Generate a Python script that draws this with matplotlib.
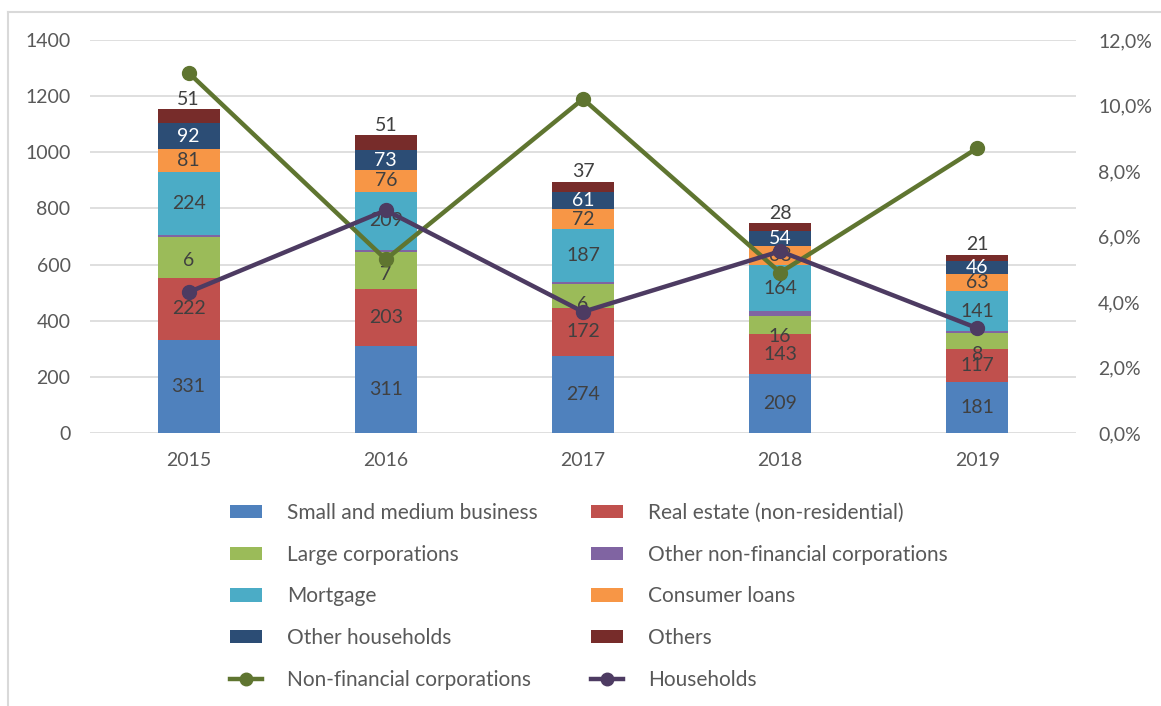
import matplotlib
matplotlib.use("Agg")
import matplotlib.pyplot as plt
import numpy as np
from matplotlib.lines import Line2D
from matplotlib.patches import Patch

plt.rcParams['font.family'] = ['Lato', 'DejaVu Sans']

years = ["2015", "2016", "2017", "2018", "2019"]

smb = [331, 311, 274, 209, 181]
real_estate = [222, 203, 172, 143, 117]
large_corp = [147, 130, 86, 65, 58]
other_nfc = [6, 7, 6, 16, 8]
mortgage = [224, 209, 187, 164, 141]
consumer = [81, 76, 72, 68, 63]
other_hh = [92, 73, 61, 54, 46]
others = [51, 51, 37, 28, 21]

nfc_rate = [11.0, 5.3, 10.2, 4.9, 8.7]
hh_rate = [4.3, 6.8, 3.7, 5.55, 3.2]

series = [
    ("Small and medium business", smb, "#4F81BD", "#404040", True),
    ("Real estate (non-residential)", real_estate, "#C0504D", "#404040", True),
    ("Large corporations", large_corp, "#9BBB59", "#404040", False),
    ("Other non-financial corporations", other_nfc, "#8064A2", "#404040", False),
    ("Mortgage", mortgage, "#4BACC6", "#404040", True),
    ("Consumer loans", consumer, "#F79646", "#404040", True),
    ("Other households", other_hh, "#2C4D75", "#FFFFFF", True),
    ("Others", others, "#772C2A", "#404040", False),
]

# layout offsets (in data units) for the "Other non-financial corporations" labels
onfc_label_shift = [63, 49, 13, -9, -20]

W, H = 1161, 706
fig = plt.figure(figsize=(W / 100, H / 100), dpi=100)
ax = fig.add_axes([90 / W, 1 - 433 / H, (1076 - 90) / W, (433 - 40) / H])
ax2 = ax.twinx()

x = np.arange(len(years))
bw = 0.315
bottom = np.zeros(len(years))
handles = {}
label_fs = 14
for name, vals, col, tcol, show in series:
    vals = np.array(vals, dtype=float)
    ax.bar(x, vals, bw, bottom=bottom, color=col, zorder=2, label=name)
    handles[name] = Patch(facecolor=col, label=name)
    if show:
        for xi, b, v in zip(x, bottom, vals):
            ax.text(xi, b + v / 2, f"{int(v)}", ha='center', va='center',
                    color=tcol, fontsize=label_fs, zorder=3)
    if name == "Others":
        for xi, b, v in zip(x, bottom, vals):
            ax.annotate(f"{int(v)}", (xi, b + v), xytext=(0, 1), textcoords='offset points',
                        ha='center', va='bottom', color="#404040", fontsize=label_fs, zorder=3)
    if name == "Other non-financial corporations":
        base = np.array(smb) + np.array(real_estate)
        for xi, b0, v, s in zip(x, base, vals, onfc_label_shift):
            ax.text(xi, b0 + s, f"{int(v)}", ha='center', va='center',
                    color="#404040", fontsize=label_fs, zorder=3)
    bottom += vals

ax.set_ylim(0, 1400)
ax.set_yticks(range(0, 1401, 200))
ax.set_xlim(-0.5, len(years) - 0.5)
ax.set_xticks(x)
ax.set_xticklabels(years)
ax.grid(axis='y', color='#D9D9D9', linewidth=1.2, zorder=0)
ax.set_axisbelow(True)
for s in ax.spines.values():
    s.set_visible(False)
for s in ax2.spines.values():
    s.set_visible(False)
ax.tick_params(axis='both', length=0, colors='#595959', labelsize=14)
ax.tick_params(axis='y', pad=14)
ax.tick_params(axis='x', pad=14)

ax2.plot(x, nfc_rate, color="#5F7530", lw=3.2, marker='o', ms=10, zorder=5)
ax2.plot(x, hh_rate, color="#4D3B62", lw=3.2, marker='o', ms=10, zorder=5)
ax2.set_ylim(0, 12)
ax2.set_yticks(range(0, 13, 2))
ax2.set_yticklabels([f"{v},0%" for v in range(0, 13, 2)])
ax2.tick_params(axis='y', length=0, colors='#595959', labelsize=14, pad=16)
ax.set_zorder(ax2.get_zorder() - 1)
ax.patch.set_visible(False)

nfc_h = Line2D([], [], color="#5F7530", lw=3.2, marker='o', ms=9, label="Non-financial corporations")
hh_h = Line2D([], [], color="#4D3B62", lw=3.2, marker='o', ms=9, label="Households")

col1 = [handles["Small and medium business"], handles["Large corporations"], handles["Mortgage"],
        handles["Other households"], nfc_h]
col2 = [handles["Real estate (non-residential)"], handles["Other non-financial corporations"],
        handles["Consumer loans"], handles["Others"], hh_h]
hl = col1 + col2
leg = fig.legend(handles=hl, labels=[h.get_label() for h in hl], ncol=2,
                 loc='upper left', bbox_to_anchor=(230 / W, 1 - 503 / H),
                 frameon=False, fontsize=15, handlelength=1.55, handleheight=0.6,
                 handletextpad=1.2, columnspacing=2.55, labelspacing=1.04,
                 borderaxespad=0, borderpad=0)
for t in leg.get_texts():
    t.set_color('#595959')

# chart-area border
fig.add_artist(Line2D([8 / W, 8 / W], [0, 1 - 12 / H], transform=fig.transFigure,
                      color='#D9D9D9', lw=1.5))
fig.add_artist(Line2D([8 / W, 1], [1 - 12 / H, 1 - 12 / H], transform=fig.transFigure,
                      color='#D9D9D9', lw=1.5))

fig.savefig("out.png", dpi=100, facecolor='white')
